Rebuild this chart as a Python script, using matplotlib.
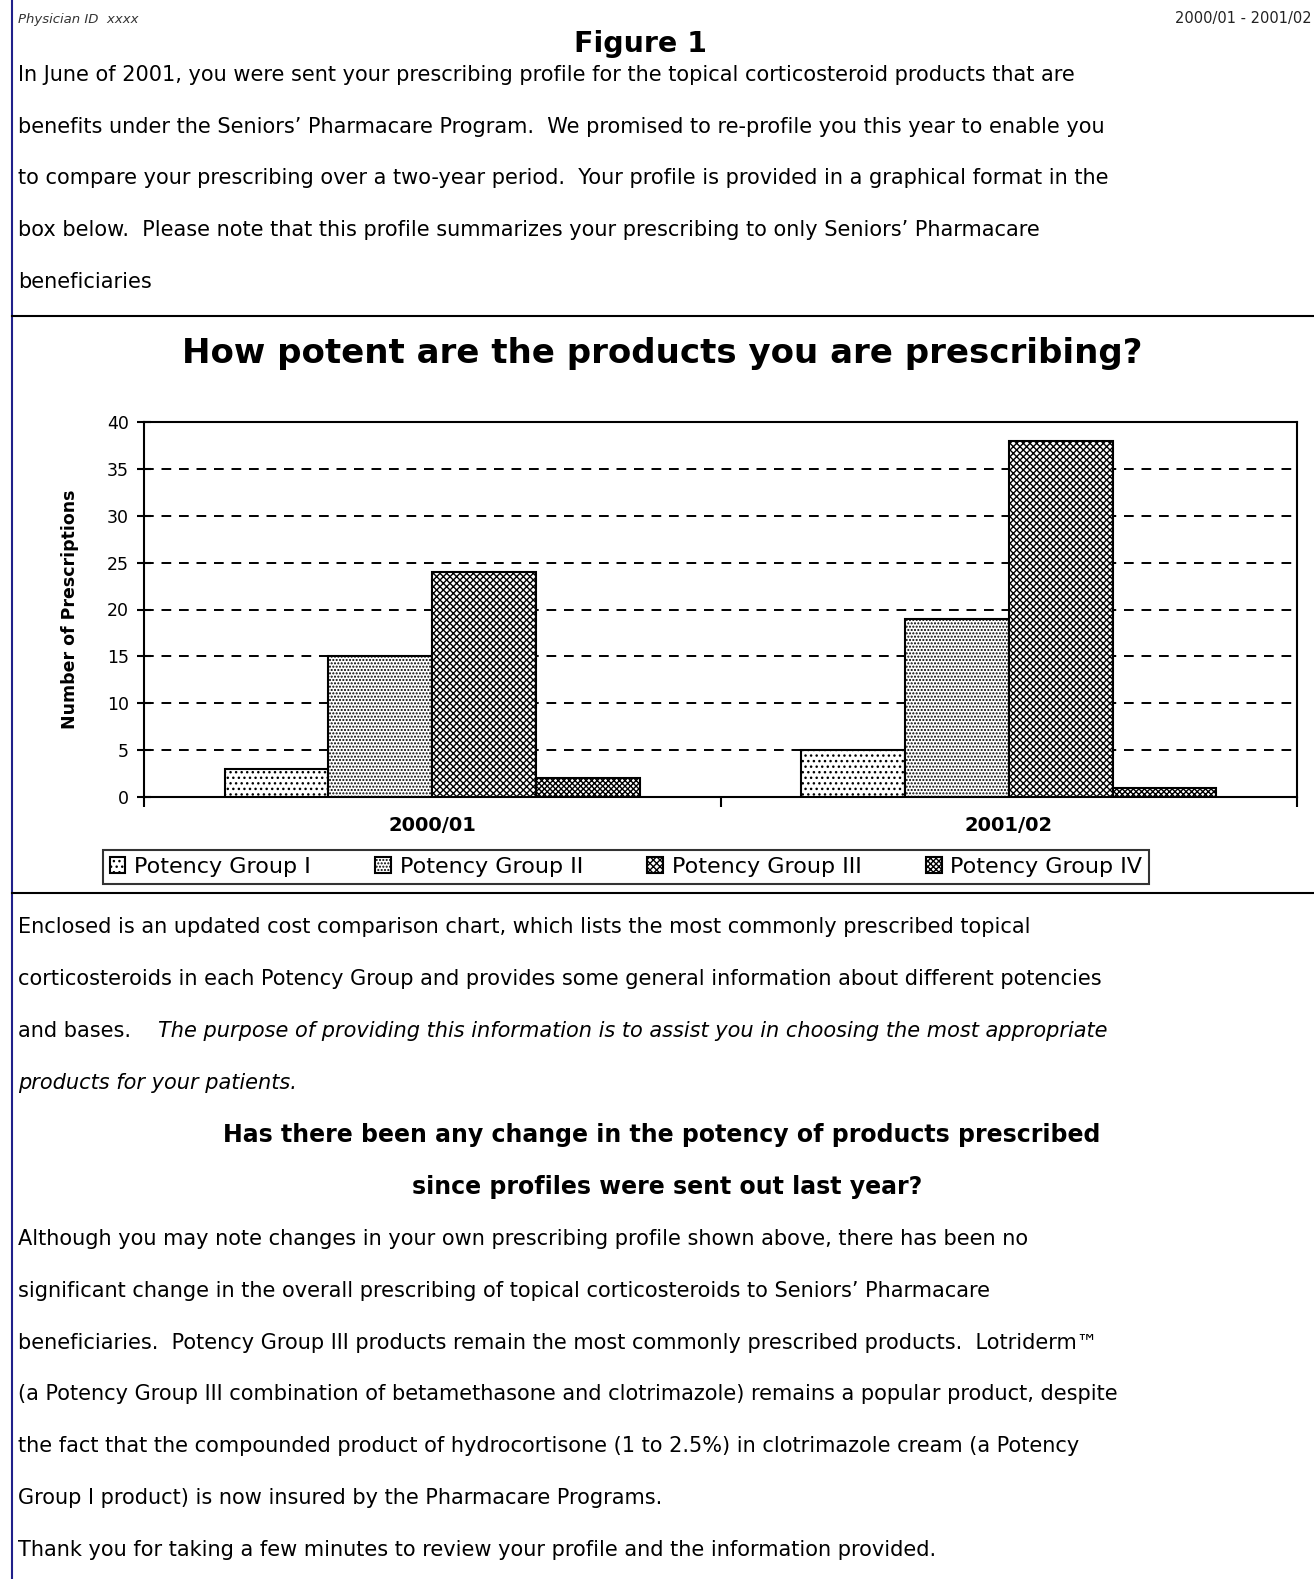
import numpy as np
import matplotlib
matplotlib.use('Agg')
import matplotlib.pyplot as plt

# chart data
years = ['2000/01', '2001/02']
groups = ['Potency Group I', 'Potency Group II', 'Potency Group III', 'Potency Group IV']
group_i = [3, 5]
group_ii = [15, 19]
group_iii = [24, 38]
group_iv = [2, 1]
series = [group_i, group_ii, group_iii, group_iv]
hatches = ['...', '.....', 'xxxxx', 'xxxxxx']
yticks = [0, 5, 10, 15, 20, 25, 30, 35, 40]

top_lines = [
    "In June of 2001, you were sent your prescribing profile for the topical corticosteroid products that are",
    "benefits under the Seniors\u2019 Pharmacare Program.  We promised to re-profile you this year to enable you",
    "to compare your prescribing over a two-year period.  Your profile is provided in a graphical format in the",
    "box below.  Please note that this profile summarizes your prescribing to only Seniors\u2019 Pharmacare",
    "beneficiaries",
]
lower_lines = [
    "Enclosed is an updated cost comparison chart, which lists the most commonly prescribed topical",
    "corticosteroids in each Potency Group and provides some general information about different potencies",
]
italic_lead = "and bases.    "
italic_text = "The purpose of providing this information is to assist you in choosing the most appropriate"
italic_last = "products for your patients."
question = ["Has there been any change in the potency of products prescribed",
            "since profiles were sent out last year?"]
closing_lines = [
    "Although you may note changes in your own prescribing profile shown above, there has been no",
    "significant change in the overall prescribing of topical corticosteroids to Seniors\u2019 Pharmacare",
    "beneficiaries.  Potency Group III products remain the most commonly prescribed products.  Lotriderm\u2122",
    "(a Potency Group III combination of betamethasone and clotrimazole) remains a popular product, despite",
    "the fact that the compounded product of hydrocortisone (1 to 2.5%) in clotrimazole cream (a Potency",
    "Group I product) is now insured by the Pharmacare Programs.",
    "Thank you for taking a few minutes to review your profile and the information provided.",
]

W, H = 1314, 1579
plt.rcParams['font.family'] = 'DejaVu Sans'
plt.rcParams['hatch.linewidth'] = 1.0
fig = plt.figure(figsize=(W / 100, H / 100), dpi=100)

# page layer in pixel coords
page = fig.add_axes([0, 0, 1, 1])
page.set_xlim(0, W)
page.set_ylim(H, 0)
page.axis('off')

body = 15
page.plot([12, 12], [0, H], color='#20208a', lw=1.5)
page.plot([12, W], [316, 316], color='black', lw=1.5)
page.plot([12, W], [893, 893], color='black', lw=1.5)

page.text(18, 19, "Physician ID  xxxx", fontsize=9.5, style='italic', color='#333333', va='center')
page.text(1312, 19, "2000/01 - 2001/02", fontsize=10.5, color='#222222', va='center', ha='right')
page.text(640, 44, "Figure 1", fontsize=20.5, weight='bold', va='center', ha='center')

for i, line in enumerate(top_lines):
    page.text(18, 75 + i * 51.7, line, fontsize=body, va='center')

ys = [927, 979]
for y, line in zip(ys, lower_lines):
    page.text(18, y, line, fontsize=body, va='center')
lead = page.text(18, 1031, italic_lead, fontsize=body, va='center')
page.annotate(italic_text, xy=(1, 0.5), xycoords=lead, fontsize=body, style='italic', va='center')
page.text(18, 1083, italic_last, fontsize=body, style='italic', va='center')
page.text(662, 1135, question[0], fontsize=17, weight='bold', va='center', ha='center')
page.text(667, 1187, question[1], fontsize=17, weight='bold', va='center', ha='center')
for i, line in enumerate(closing_lines):
    page.text(18, 1239 + i * 51.8, line, fontsize=body, va='center')

page.text(662, 354, "How potent are the products you are prescribing?", fontsize=24.5,
          weight='bold', va='center', ha='center')

# chart
ax = fig.add_axes([144 / W, 1 - 797 / H, (1297 - 144) / W, (797 - 422) / H])
x = np.arange(len(years))
bw = 0.18
for k, (vals, hat) in enumerate(zip(series, hatches)):
    ax.bar(x + (k - 1.5) * bw, vals, width=bw, facecolor='white', edgecolor='black',
           hatch=hat, linewidth=1.5, label=groups[k], zorder=3)

ax.set_xlim(-0.5, 1.5)
ax.set_ylim(0, 40)
ax.set_yticks(yticks)
ax.set_yticklabels([str(v) for v in yticks], fontsize=12.5)
ax.yaxis.grid(True, linestyle=(0, (5, 4)), color='black', lw=1.4, zorder=1)
ax.set_xticks(x)
ax.set_xticklabels(years, fontsize=14, weight='bold')
ax.tick_params(axis='x', length=0, pad=14)
ax.set_xticks([-0.5, 0.5, 1.5], minor=True)
ax.tick_params(axis='x', which='minor', length=7, width=1.5, direction='out')
ax.tick_params(axis='y', length=10, width=1.5, direction='inout', pad=6)
for s in ax.spines.values():
    s.set_linewidth(1.5)
ax.set_ylabel("Number of Prescriptions", fontsize=12.5, weight='bold', labelpad=20)

leg = fig.legend(loc='center', bbox_to_anchor=(626 / W, 1 - 867 / H),
                 ncol=4, fontsize=16, frameon=True, fancybox=False,
                 edgecolor='black', handlelength=0.7, handleheight=0.7, handletextpad=0.4,
                 columnspacing=2.9, borderpad=0.3, borderaxespad=0)
leg.get_frame().set_linewidth(1.5)

fig.savefig('out.png', dpi=100)
